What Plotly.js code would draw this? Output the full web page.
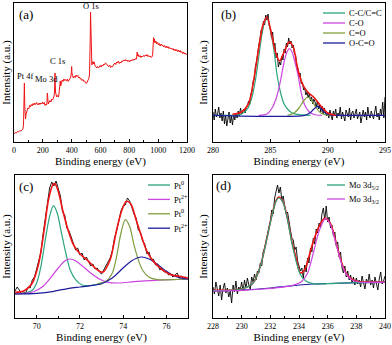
<!DOCTYPE html>
<html>
<head>
<meta charset="utf-8">
<script src="https://cdn.plot.ly/plotly-3.0.1.min.js"></script>
<style>html,body{margin:0;padding:0;background:#fff}#plot{width:392px;height:345px}</style>
</head>
<body>
<div id="plot"></div>
<script>
// (a) survey spectrum
var surveyX = [0,8,16,24,32,40,48,56,62,66,69,71,72,73,75,77,80,84,90,96,102,108,114,120,126,132,138,144,150,156,162,168,174,180,186,192,198,204,210,216,222,226,229,231,233,235,238,244,250,256,262,268,274,278,281,283,284.5,286,288,292,296,302,308,312,315,318,321,324,328,334,340,346,352,358,364,370,376,382,388,394,398,400,402,406,412,418,424,430,436,442,448,454,460,466,472,478,484,490,496,502,508,514,520,524,527,529,531,533,535,537,540,544,548,552,556,562,568,574,580,586,592,598,604,610,616,622,628,634,640,646,652,658,664,670,676,682,688,694,700,706,712,718,724,730,736,742,748,754,760,766,772,778,784,790,796,802,808,814,820,826,832,838,844,850,853,855,858,862,868,874,880,886,892,898,904,910,916,922,928,934,940,946,952,958,962,965,968,971,974,978,984,990,996,1002,1008,1014,1020,1026,1032,1038,1044,1050,1056,1062,1068,1074,1080,1086,1092,1098,1104,1110,1116,1122,1128,1134,1140,1146,1152,1158,1164,1170,1176,1182,1188,1194,1200];
var surveyY = [8,9.5,9,10.5,10,11.5,11,12.5,13,18,32,50,59,50,35,26,23,28,31,34,33,36.5,35,37.5,36,38.5,37,39,37.5,39.5,38,37,39,37.5,39,38,40,38,39.5,36.5,38,37,40,49,47,42,38,40,41.5,40,43,42,44.5,46,50,66,69,58,50,46.5,45,46.5,45,48,55,59,61,56,59,62,60.5,63,61.5,62.5,61,63,60.5,62,64,65,70,75.5,69,66.5,64,66,64.5,67,65.5,66.5,64,65,63,63.5,61.5,62.5,60.5,61,59,58.5,60,61.5,64,68,80,105,130,118,100,80,77,79,80.5,78,80,76,75.5,74,75.5,74,75,76.5,75,77,76,78,77,79,78.5,77,76,75.5,77,74.5,76,75,77.5,78,79,77.5,80,79,81,78.5,80,79,81,80.5,82,81,82.5,81,82,80.5,81.5,80,82,81,82.5,81.5,83,82,83.5,83,88,90,86,87.5,85,86.5,84.5,86,85,86.5,85.5,87,86,87.5,85.5,86.5,85,86,84.5,85.5,88,98,104.5,100,103,99,101,98,99.5,97,98.5,96,98,96.5,97,95,96.5,94.5,96,94,95.5,93.5,94.5,93,94,92.5,93.5,91.5,93,91,92.5,90.5,92,90,91.5,89.5,90.5,88.5,90,88,89,87.5,88];
var surveyLabels = ["O 1s", "C 1s", "Mo 3d", "Pt 4f"];
var surveyLabelX = [531, 300, 228, 78];
var surveyLabelY = [136, 81, 63, 66];

// (b) C 1s, measured on a 0.1 eV grid from 280 eV
var c1sStart = 280, c1sStep = 0.1;
var c1sRaw = [30,22,33,25,28,35,24,29,21,31,
  18,27,16,24,30,19,26,17,28,22,
  29,24,31,26,34,28,30,33,29,35,
  36,41,38,48,50,61,63,76,80,92,
  97,103,112,109,121,117,127,122,128,116,
  115,104,110,95,99,84,89,75,80,77,
  86,82,93,89,99,95,104,98,101,94,
  97,88,87,77,74,66,69,58,60,52,
  54,47,50,44,49,41,45,38,43,40,
  35,41,33,37,30,36,28,34,31,26,
  30,24,32,27,22,31,26,33,24,29,
  27,35,23,30,26,21,32,28,25,34,
  22,29,31,24,28,33,23,27,30,19,
  28,32,25,30,22,35,27,24,31,26,
  23,30,36,25,29,22,33,27,40,24,45];
var ccX = [280,282.0,282.5,283.0,283.4,283.7,284.0,284.3,284.5,284.65,284.8,285.0,285.3,285.6,285.9,286.2,286.5,286.9,287.5,288.5];
var ccY = [26.7,26.8,28,33,45,62,86,110,121,124.3,122,112,93,66,49,38,33,29,27.3,26.7];
var coX = [284.0,284.7,285.2,285.6,285.9,286.2,286.45,286.64,286.85,287.1,287.4,287.7,288.0,288.4,288.8,289.5];
var coY = [26.7,28,35,47,62,80,90,93.3,91,82,68,49,37,30,27.5,26.7];
var cdoX = [286.5,287.0,287.5,287.9,288.25,288.6,289.0,289.4,289.9,290.5];
var cdoY = [26.7,28.5,34,41,45,41.5,34,29,27,26.7];
var ocoX = [280,288.0,288.5,288.8,289.1,289.4,289.8,290.2,290.8,295];
var ocoY = [26.7,26.7,29.5,33,35.7,33.5,29,27,26.7,26.7];
var c1sFitX = [281.7,282.5,283.1,283.5,284.0,284.35,284.7,285.1,285.47,285.8,286.2,286.64,287.0,287.37,287.8,288.25,288.85,289.4,290.0,290.7];
var c1sFitY = [27.7,30,38.3,58.3,95,116.7,125,108.3,89,81,90,100,95,74,58,50,44,36,29,26.7];
var c1sNames = ["C-C/C=C", "C-O", "C=O", "O-C=O"];

// (c) Pt 4f, 0.1 eV grid from 69 eV
var pt4fStart = 69, pt4fStep = 0.1;
var pt4fRaw = [27,31,28,24,26,25,31,30,38,41,
  49,58,66,84,99,114,130,136,132,137,
  130,122,106,103,90,87,81,75,68,70,
  63,65,58,61,57,52,54,49,50,46,
  44,48,52,55,60,67,80,87,99,107,
  112,113,120,117,111,104,100,88,86,77,
  74,64,66,58,59,53,54,48,50,46,
  47,43,44,41,43,45,40,42,39,41,39];
var pt0aX = [69.0,69.5,69.8,70.0,70.2,70.4,70.6,70.78,70.95,71.15,71.35,71.55,71.8,72.1,72.5,73.0];
var pt0aY = [24,25,27.7,35,51.7,78,101.7,112.3,105,85,65,48.3,38.3,33,32.5,34.3];
var pt2aX = [69.0,69.8,70.3,70.7,71.0,71.3,71.54,71.8,72.1,72.5,72.9,73.3,73.8,74.5,75.5,77.0];
var pt2aY = [24,25.7,31.7,41.7,50,57,59,57.3,52.3,45,39,35.7,35,36.3,37.7,39];
var pt0bX = [72.8,73.2,73.5,73.7,73.9,74.1,74.3,74.5,74.7,74.9,75.2,75.6,76.5,77.0];
var pt0bY = [34.3,36.7,45,61.7,85,98.3,91.7,73.3,58.3,47.7,40.7,38.3,38.5,39];
var pt2bX = [69,70,70.8,71.5,72,72.5,73,73.5,74.0,74.4,74.84,75.2,75.6,76.0,76.4,76.8,77];
var pt2bY = [24,24.7,26.7,29.7,31,32.3,34.3,40,50,57.3,61,59,53.3,46.7,41.7,39.3,39];
var pt4fFitX = [69.0,69.4,69.8,70.1,70.35,70.55,70.75,70.85,71.0,71.2,71.45,71.7,72.0,72.4,72.8,73.05,73.4,73.7,73.95,74.15,74.35,74.6,74.85,75.1,75.4,75.8,76.2,76.6,77.0];
var pt4fFitY = [25.7,27,35,55,88.3,118.3,133.3,134.3,126.7,108.3,88.3,73.3,64.3,56.7,48.3,45.7,58.3,88.3,108.3,116.7,114.3,98.3,81.7,66.7,56.7,48.3,43.3,41.7,40];
var pt4fNames = ["Pt<sup>0</sup>", "Pt<sup>2+</sup>", "Pt<sup>0</sup>", "Pt<sup>2+</sup>"];

// (d) Mo 3d, 0.1 eV grid from 228 eV
var mo3dStart = 228, mo3dStep = 0.1;
var mo3dRaw = [31,24,36,27,22,33,18,29,35,25,
  30,21,27,15,33,26,37,24,31,28,
  36,27,38,30,40,33,29,41,36,44,
  38,47,45,55,52,66,70,77,84,92,
  97,108,104,120,127,133,125,131,118,122,
  112,104,106,94,88,80,78,68,71,57,
  52,47,50,40,53,46,60,55,70,66,
  80,74,89,85,95,91,104,110,98,112,
  96,101,90,93,82,86,72,76,61,66,
  50,45,52,41,47,38,43,35,41,33,
  40,34,38,31,42,36,29,39,35,44,
  33,38,30,41,35,28,39,46,34,37,42];
var mo52X = [228,229,230,230.8,231.3,231.7,232.1,232.4,232.6,232.9,233.2,233.5,233.8,234.1,234.5,235.0,236,237,238,240];
var mo52Y = [27.3,27.7,29,35,51.7,75,101.7,116.7,120,115,98.3,75,56.7,43.3,36.7,34.3,34.3,35,35.3,35.7];
var mo32X = [228,230,231.5,232.5,233.5,234.2,234.6,235.0,235.4,235.85,236.2,236.6,237.0,237.4,237.9,238.5,240];
var mo32Y = [27,27.7,29,30.3,32.3,36.7,45,65,86.7,99.3,93.3,73.3,53.3,41.7,36.7,35.7,35.7];
var moBgX = [228,230,232,233,234,235,236,238,240];
var moBgY = [27,28,30,31.5,33,34,34.5,35.3,35.7];
var mo3dFitX = [228,230,230.8,231.3,231.7,232.1,232.4,232.6,232.9,233.2,233.5,233.8,234.1,234.4,234.7,235.0,235.4,235.8,236.2,236.6,237.0,237.4,237.9,238.5,240];
var mo3dFitY = [27.7,29,35,51.7,75.7,102.3,117.3,121,115.7,99.3,76.7,60,45,48.3,61.7,76.7,91.7,100,94.3,74.3,54.3,42.3,37.3,36,36];
var mo3dNames = ["Mo 3d<sub>5/2</sub>", "Mo 3d<sub>3/2</sub>"];

var GREEN = "#2aa57c", MAGENTA = "#cc44e0", OLIVE = "#7f9f3f", NAVY = "#1c1c9c", RED = "#f01414";
var FONT = "'Liberation Serif', 'Times New Roman', serif";

function grid(start, step, n) {
  var out = [];
  for (var i = 0; i < n; i++) out.push(Math.round((start + i * step) * 100) / 100);
  return out;
}
function raw(x, y, xa, ya) {
  return {x: x, y: y, xaxis: xa, yaxis: ya, mode: "lines", line: {color: "#000", width: 0.9}, hoverinfo: "skip"};
}
function fit(x, y, color, xa, ya, w) {
  return {x: x, y: y, xaxis: xa, yaxis: ya, mode: "lines",
    line: {color: color, width: w || 1.2, shape: "spline", smoothing: 0.8}, hoverinfo: "skip"};
}

var data = [
  {x: surveyX, y: surveyY, xaxis: "x", yaxis: "y", mode: "lines", line: {color: RED, width: 1}},
  raw(grid(c1sStart, c1sStep, c1sRaw.length), c1sRaw, "x2", "y2"),
  fit(ccX, ccY, GREEN, "x2", "y2"),
  fit(coX, coY, MAGENTA, "x2", "y2"),
  fit(cdoX, cdoY, OLIVE, "x2", "y2"),
  fit(ocoX, ocoY, NAVY, "x2", "y2"),
  fit(c1sFitX, c1sFitY, RED, "x2", "y2", 1.6),
  raw(grid(pt4fStart, pt4fStep, pt4fRaw.length), pt4fRaw, "x3", "y3"),
  fit(pt0aX, pt0aY, GREEN, "x3", "y3"),
  fit(pt2aX, pt2aY, MAGENTA, "x3", "y3"),
  fit(pt0bX, pt0bY, OLIVE, "x3", "y3"),
  fit(pt2bX, pt2bY, NAVY, "x3", "y3"),
  fit(pt4fFitX, pt4fFitY, RED, "x3", "y3", 1.6),
  raw(grid(mo3dStart, mo3dStep, mo3dRaw.length), mo3dRaw, "x4", "y4"),
  fit(moBgX, moBgY, NAVY, "x4", "y4"),
  fit(mo3dFitX, mo3dFitY, RED, "x4", "y4", 1.6),
  fit(mo52X, mo52Y, GREEN, "x4", "y4"),
  fit(mo32X, mo32Y, MAGENTA, "x4", "y4")
];

function px(v) { return v / 392; }
function py(v) { return 1 - v / 345; }

function xAxis(left, right, range, dtick, minor, anchor) {
  return {domain: [px(left), px(right)], range: range, dtick: dtick, tick0: 0, anchor: anchor,
    ticks: "inside", ticklen: 3, tickcolor: "#000", minor: {dtick: minor, ticks: "inside", ticklen: 2, tickcolor: "#000"},
    showline: true, mirror: true, linecolor: "#000", linewidth: 1, showgrid: false, zeroline: false,
    tickfont: {family: FONT, size: 8, color: "#000"},
    title: {text: "Binding energy (eV)", font: {family: FONT, size: 11, color: "#000"}, standoff: 3}};
}
function yAxis(top, bottom, range, anchor) {
  return {domain: [py(bottom), py(top)], range: range, anchor: anchor, showticklabels: false, ticks: "",
    showline: true, mirror: true, linecolor: "#000", linewidth: 1, showgrid: false, zeroline: false,
    title: {text: "Intensity (a.u.)", font: {family: FONT, size: 11, color: "#000"}, standoff: 2}};
}

var annotations = [];
var shapes = [];
function label(text, x, y, size) {
  annotations.push({text: text, x: px(x), y: py(y), xref: "paper", yref: "paper", xanchor: "left", yanchor: "middle",
    showarrow: false, font: {family: FONT, size: size, color: "#000"}});
}
label("(a)", 17, 14, 13);
label("(b)", 219, 15, 13);
label("(c)", 17, 186, 13);
label("(d)", 214, 185, 13);

for (var i = 0; i < surveyLabels.length; i++) {
  annotations.push({text: surveyLabels[i], x: surveyLabelX[i], y: surveyLabelY[i], xref: "x", yref: "y",
    showarrow: false, font: {family: FONT, size: 8.5, color: "#000"}});
}

function legend(names, colors, x0, x1, y0, gap) {
  for (var i = 0; i < names.length; i++) {
    var yy = y0 + i * gap;
    shapes.push({type: "line", xref: "paper", yref: "paper", x0: px(x0), x1: px(x1), y0: py(yy), y1: py(yy),
      line: {color: colors[i], width: 1.3}});
    label(names[i], x1 + 2, yy, 8.5);
  }
}
legend(c1sNames, [GREEN, MAGENTA, OLIVE, NAVY], 323, 345, 13, 10);
legend(pt4fNames, [GREEN, MAGENTA, OLIVE, NAVY], 148, 170, 185, 14.4);
legend(mo3dNames, [GREEN, MAGENTA], 327, 345, 185, 14);

var layout = {
  width: 392, height: 345, margin: {l: 0, r: 0, t: 0, b: 0},
  paper_bgcolor: "#fff", plot_bgcolor: "#fff", showlegend: false,
  font: {family: FONT, color: "#000"},
  xaxis: xAxis(14, 187, [0, 1200], 200, 100, "y"),
  yaxis: yAxis(3, 142, [0, 139], "x"),
  xaxis2: xAxis(213, 385, [280, 295], 5, 2.5, "y2"),
  yaxis2: yAxis(3, 142, [0, 139], "x2"),
  xaxis3: xAxis(15, 188, [69, 77], 2, 1, "y3"),
  yaxis3: yAxis(175, 318, [0, 143], "x3"),
  xaxis4: xAxis(213, 385, [228, 240], 2, 1, "y4"),
  yaxis4: yAxis(175, 318, [0, 143], "x4"),
  annotations: annotations,
  shapes: shapes
};

Plotly.newPlot("plot", data, layout, {staticPlot: true});
</script>
</body>
</html>
